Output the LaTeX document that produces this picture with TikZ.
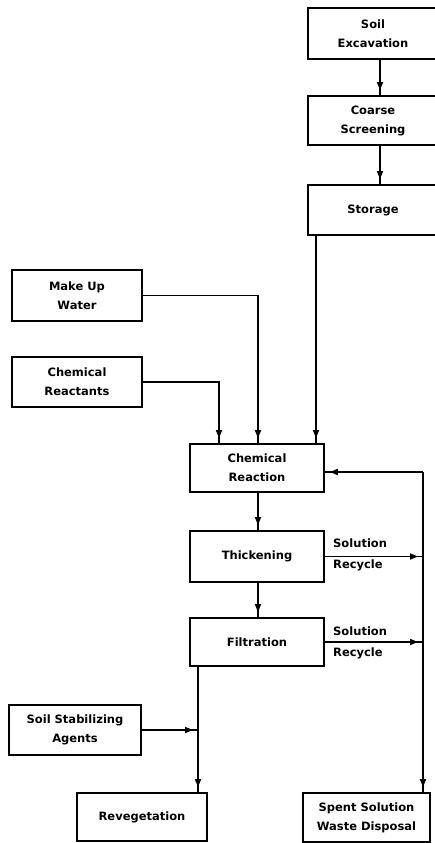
\documentclass[tikz,border=0pt]{standalone}
\usepackage{fontspec}
\setmainfont{DejaVu Sans}
\usetikzlibrary{arrows.meta,decorations.markings}
\tikzset{
  box/.style={draw, line width=1.8pt, inner sep=0pt, align=center,
    font=\fontsize{11.5}{19}\selectfont\bfseries},
  lbl/.style={inner sep=0pt, anchor=west, font=\fontsize{11.5}{12}\selectfont\bfseries},
  flow/.style={line width=1.7pt, postaction={decorate},
    decoration={markings, mark=at position -5pt with {\arrow{Triangle[length=8pt,width=6pt]}}}},
}
\begin{document}
\begin{tikzpicture}[x=1pt,y=-1pt]
\useasboundingbox (0,0) rectangle (435,843);
\clip (0,0) rectangle (435,843);
\fill[white] (0,0) rectangle (435,843);

\node[box, minimum width=130pt, minimum height=51pt] (se) at (373,33.5) {Soil\\Excavation};
\node[box, minimum width=130pt, minimum height=49pt] (cs) at (373,120.5) {Coarse\\Screening};
\node[box, minimum width=130pt, minimum height=50pt] (st) at (373,210) {Storage};
\node[box, minimum width=130pt, minimum height=51pt] (mw) at (77,295.5) {Make Up\\Water};
\node[box, minimum width=130pt, minimum height=50pt] (cre) at (77,382) {Chemical\\Reactants};
\node[box, minimum width=134pt, minimum height=48pt] (cr) at (257,468) {Chemical\\Reaction};
\node[box, minimum width=134pt, minimum height=51pt] (th) at (257,556.5) {Thickening};
\node[box, minimum width=134pt, minimum height=48pt] (fi) at (257,642) {Filtration};
\node[box, minimum width=132pt, minimum height=50pt] (ssa) at (75,730) {Soil Stabilizing\\Agents};
\node[box, minimum width=130pt, minimum height=48pt] (rv) at (142,817) {Revegetation};
\node[box, minimum width=127pt, minimum height=49pt] (sp) at (366.5,817.5) {Spent Solution\\Waste Disposal};

\node[lbl] (s1) at (333,543) {Solution};
\node[lbl] (r1) at (333,565) {Recycle};
\node[lbl] (s2) at (333,631) {Solution};
\node[lbl] (r2) at (333,653) {Recycle};

\coordinate (jv) at (198,730);
\coordinate (rt) at (423,472);
\coordinate (rh) at (423,556.5);
\coordinate (rf) at (423,642);

\draw[flow] ([xshift=7pt]se.south) -- ([xshift=7pt]cs.north);
\draw[flow] ([xshift=7pt]cs.south) -- ([xshift=7pt]st.north);
\draw[flow] ([xshift=-57pt]st.south) -- ([xshift=59pt]cr.north);
\draw[flow] (mw.east) -| ([xshift=1pt]cr.north);
\draw[flow] (cre.east) -| ([xshift=-38pt]cr.north);
\draw[flow] ([xshift=1pt]cr.south) -- ([xshift=1pt]th.north);
\draw[flow] ([xshift=1pt]th.south) -- ([xshift=1pt]fi.north);
\draw[flow] (fi.south -| jv) -- (rv.north -| jv);
\draw[flow] (ssa.east) -- (jv);
\draw[flow] (th.east) -- (rh);
\draw[flow] (fi.east) -- (rf);
\draw[flow] (rt) -- (cr.east |- rt);
\draw[flow] (rt) -- (sp.north -| rt);
\end{tikzpicture}
\end{document}
